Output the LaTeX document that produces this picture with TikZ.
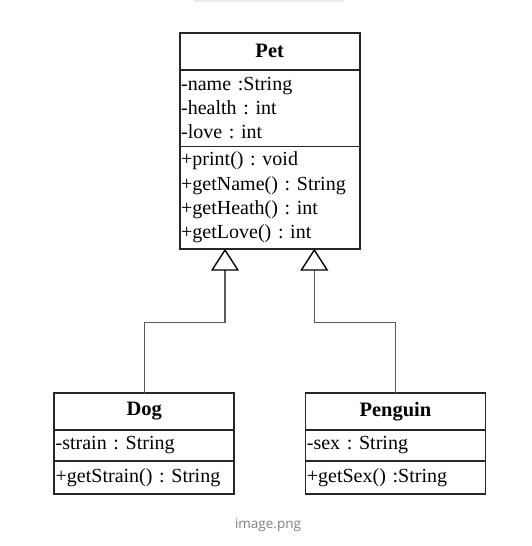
\documentclass[tikz,border=0pt]{standalone}
\usepackage{fontspec}
\setmainfont{Liberation Serif}
\newfontfamily\captionfont{Open Sans}
\usetikzlibrary{positioning,arrows.meta}
\frenchspacing

\begin{document}
\begin{tikzpicture}[x=1pt,y=-1pt,
  		head/.style={draw=black!85,line width=1.8pt,outer sep=0pt,minimum width=180pt,minimum height=37pt,inner sep=0pt,
    		font=\fontsize{20.5}{24.4}\selectfont\bfseries},
  		part/.style={draw=black!85,line width=1.8pt,outer sep=0pt,text width=177pt,inner xsep=1.5pt,inner ysep=0pt,align=left,
    		font=\fontsize{20}{24.4}\selectfont},
  		inherit/.style={draw=black!65,line width=1.4pt,
    		-{Triangle[open,length=22pt,width=28pt,color=black,line width=1.4pt]}}]
    		\useasboundingbox (0,0) rectangle (532,546);
    		\draw[black!8,line width=1.5pt] (194,0.8) -- (344,0.8);
    		% Parent
      		\node[head,anchor=north] (pet) at (269.7,32.7) {Pet};
      		\node[part,minimum height=76.7pt,below=0pt of pet] (petattr) {-name :String\\-health : int\\-love : int};
      		\node[part,minimum height=102.3pt,below=0pt of petattr] (petops)
        		{+print() : void\\+getName() : String\\+getHeath() : int\\+getLove() : int};
    		% Children
      		\node[head,anchor=north] (dog) at (144.2,392.7) {Dog};
      		\node[part,minimum height=31.4pt,below=0pt of dog] (dogattr) {-strain : String};
      		\node[part,minimum height=32.6pt,below=0pt of dogattr] (dogops) {+getStrain() : String};
      		\node[head,anchor=north] (penguin) at (395.4,392.7) {Penguin};
      		\node[part,minimum height=31.4pt,below=0pt of penguin] (penguinattr) {-sex : String};
      		\node[part,minimum height=32.6pt,below=0pt of penguinattr] (penguinops) {+getSex() :String};
    		% Generalisation
      		\draw[inherit] (dog.north) |- ([xshift=-44.7pt,yshift=-74pt]petops.south) -- ([xshift=-44.7pt]petops.south);
      		\draw[inherit] (penguin.north) |- ([xshift=44.6pt,yshift=-74pt]petops.south) -- ([xshift=44.6pt]petops.south);
    		% Caption
      		\node[font=\captionfont\fontsize{13.5}{16}\selectfont,text=black!50] (caption) at (268,525) {image.png};
	\end{tikzpicture}
\end{document}
